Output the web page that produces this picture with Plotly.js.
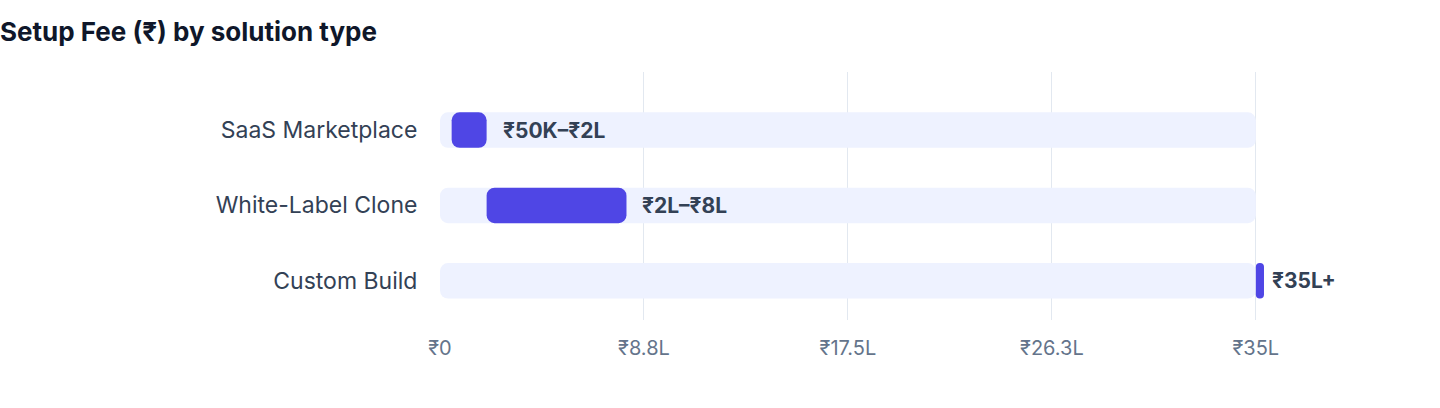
<!DOCTYPE html>
<html>
<head>
<meta charset="utf-8">
<script src="https://cdn.plot.ly/plotly-3.0.1.min.js"></script>
<style>
  html, body { margin: 0; padding: 0; background: #fff; }
  #chart { width: 1440px; height: 408px; }
</style>
</head>
<body>
<div id="chart"></div>
<script>
// setup fee ranges, in lakh rupees
const categories = ['SaaS Marketplace', 'White-Label Clone', 'Custom Build']
const feeMin = [0.5, 2, 35]
const feeMax = [2, 8, 35.35]
const rangeLabels = ['₹50K–₹2L', '₹2L–₹8L', '₹35L+']
const trackMax = [35, 35, 35]
const tickVals = [0, 8.75, 17.5, 26.25, 35]
const tickText = ['₹0', '₹8.8L', '₹17.5L', '₹26.3L', '₹35L']

const FONT = 'Inter, "Liberation Sans", Arial, sans-serif'

window.addEventListener('load', () => {
  drawChart()
})

function drawChart () {
  // light background track behind every row
  const track = {
    type: 'bar',
    orientation: 'h',
    y: categories,
    x: trackMax,
    base: 0,
    width: 0.47,
    marker: { color: '#EEF2FF', cornerradius: 8 },
    hoverinfo: 'skip',
    showlegend: false
  }

  // the actual fee range
  const range = {
    type: 'bar',
    orientation: 'h',
    y: categories,
    x: feeMax.map((v, i) => v - feeMin[i]),
    base: feeMin,
    width: 0.47,
    marker: { color: '#4F46E5', cornerradius: 8 },
    showlegend: false
  }

  // labels sit just past the range end (capped at the track end)
  const annotations = categories.map((c, i) => ({
    x: Math.min(feeMax[i], trackMax[i]),
    y: c,
    xref: 'x',
    yref: 'y',
    text: '<b>' + rangeLabels[i] + '</b>',
    showarrow: false,
    xanchor: 'left',
    xshift: 14,
    font: { family: FONT, size: 21, color: '#334155' }
  }))

  const layout = {
    width: 1440,
    height: 408,
    margin: { l: 440, r: 21, t: 72, b: 88 },
    paper_bgcolor: '#ffffff',
    plot_bgcolor: '#ffffff',
    barmode: 'overlay',
    title: {
      text: '<b>Setup Fee (₹) by solution type</b>',
      xref: 'container',
      x: 0,
      xanchor: 'left',
      yref: 'container',
      y: 1 - 32 / 408,
      yanchor: 'middle',
      font: { family: FONT, size: 26, color: '#0f172a' }
    },
    xaxis: {
      range: [0, 42],
      tickvals: tickVals,
      ticktext: tickText,
      showgrid: true,
      gridcolor: '#E2E8F0',
      gridwidth: 1,
      zeroline: false,
      showline: false,
      ticks: 'outside',
      ticklen: 10,
      tickcolor: 'rgba(0,0,0,0)',
      tickfont: { family: FONT, size: 20, color: '#64748B' },
      fixedrange: true
    },
    yaxis: {
      type: 'category',
      autorange: false,
      range: [2.52, -0.77],
      showgrid: false,
      zeroline: false,
      showline: false,
      ticks: 'outside',
      ticklen: 17,
      tickcolor: 'rgba(0,0,0,0)',
      tickfont: { family: FONT, size: 23, color: '#334155' },
      fixedrange: true
    },
    annotations: annotations
  }

  Plotly.newPlot('chart', [track, range], layout, { displayModeBar: false, staticPlot: true })
}
</script>
</body>
</html>
